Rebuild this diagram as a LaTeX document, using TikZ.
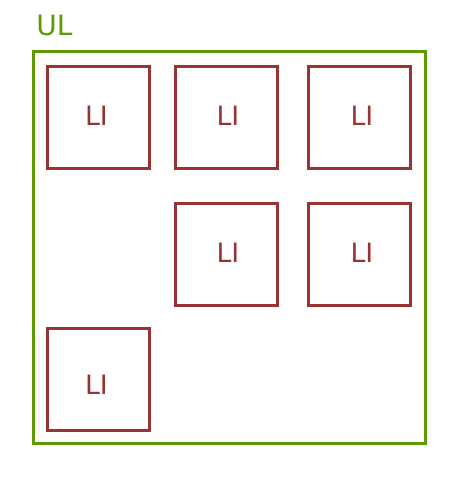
\documentclass[tikz,border=0pt]{standalone}
\usepackage{fontspec}
\setmainfont{DejaVu Sans}
\definecolor{ulgreen}{HTML}{5F9A00}
\definecolor{lired}{HTML}{993333}
\begin{document}
\begin{tikzpicture}[x=0.75pt,y=-0.75pt,
  libox/.style={draw=lired,line width=2.25pt,minimum width=76.5pt,minimum height=76.5pt,inner sep=0pt},
  litext/.style={text=lired,font=\fontsize{20}{20}\selectfont,inner sep=0pt},
  ulbox/.style={draw=ulgreen,line width=2.25pt}]
\useasboundingbox (0,0) rectangle (454,500);
\draw[ulbox] (33,51) rectangle (425,443);
\node[text=ulgreen,font=\fontsize{21}{21}\selectfont,anchor=base west,inner sep=0pt] (ul) at (36,35.5) {UL};
\node[libox] (a) at (98,117) {};
\node[libox] (b) at (226,117) {};
\node[libox] (c) at (359,117) {};
\node[libox] (d) at (226,254) {};
\node[libox] (e) at (359,254) {};
\node[libox] (f) at (98,379) {};
\node[litext] (ta) at ([shift={(-1.5,-1)}]a.center) {LI};
\node[litext] (tb) at ([shift={(2,-1)}]b.center) {LI};
\node[litext] (tc) at ([shift={(3,-1)}]c.center) {LI};
\node[litext] (td) at ([shift={(2,-1)}]d.center) {LI};
\node[litext] (te) at ([shift={(3,-1)}]e.center) {LI};
\node[litext] (tf) at ([shift={(-1.5,5.5)}]f.center) {LI};
\end{tikzpicture}
\end{document}
